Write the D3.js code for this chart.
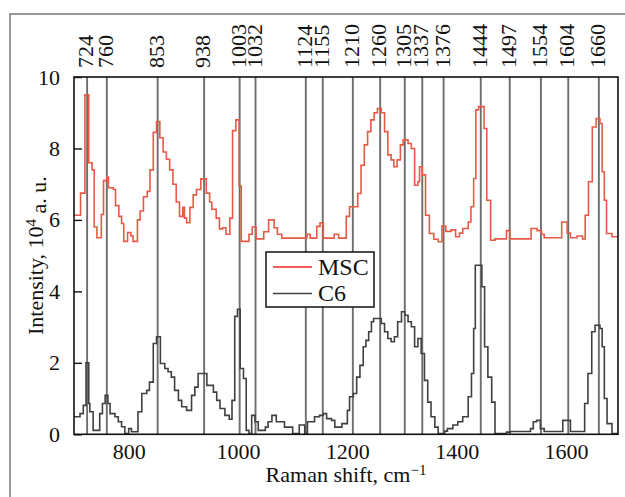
<html>
<head>
<style>
  body { margin: 0; background: white; }
  text { font-family: "Liberation Serif", "DejaVu Serif", serif; fill: #111; }
</style>
<script src="https://cdn.jsdelivr.net/npm/d3@7"></script>
</head>
<body>
<svg id="main"></svg>
<script>
// peak positions marked with vertical lines
const peaks = [724, 760, 853, 938, 1003, 1032, 1124, 1155, 1210, 1260, 1305, 1337, 1376, 1444, 1497, 1554, 1604, 1660]

// [Raman shift, intensity 10^4 a.u.], step-after
const msc = [
  [700, 6.13], [712, 6.75], [720, 9.5], [727, 7.6], [733, 7.4], [737, 5.8], [742, 5.5], [750, 6.15],
  [754, 7.1], [760, 7.2], [763, 6.9], [772, 6.85], [776, 6.4], [782, 6.1], [787, 5.9], [791, 5.4],
  [798, 5.65], [804, 5.55], [808, 5.4], [816, 6.0], [821, 6.25], [827, 6.65], [834, 6.8], [839, 7.4],
  [845, 8.45], [851, 8.75], [857, 8.3], [863, 7.9], [869, 7.7], [875, 7.4], [881, 7.0], [887, 6.5],
  [893, 6.1], [899, 6.35], [902, 6.05], [906, 5.92], [912, 6.35], [918, 6.7], [924, 6.85], [932, 7.15],
  [942, 6.75], [948, 6.5], [952, 6.3], [960, 6.05], [966, 5.75], [972, 5.78], [978, 5.6], [985, 6.05],
  [990, 8.5], [996, 8.8], [1002, 6.95], [1006, 5.4], [1020, 5.6], [1026, 5.8], [1033, 5.47], [1047, 5.67],
  [1056, 6.0], [1066, 5.78], [1072, 5.6], [1080, 5.49], [1126, 5.6], [1132, 5.49], [1144, 5.82], [1150, 5.92],
  [1156, 5.49], [1176, 5.6], [1184, 5.49], [1198, 6.1], [1204, 6.37], [1219, 6.74], [1225, 7.53], [1231, 8.1],
  [1237, 8.47], [1243, 8.8], [1249, 9.0], [1255, 9.12], [1262, 9.0], [1268, 8.47], [1274, 7.82], [1280, 7.68],
  [1285, 7.49], [1291, 7.68], [1297, 8.1], [1302, 8.24], [1311, 8.14], [1317, 8.0], [1323, 6.97], [1329, 7.07],
  [1332, 7.49], [1337, 7.26], [1343, 6.13], [1350, 5.62], [1358, 5.46], [1366, 5.39], [1373, 5.83], [1380, 5.68],
  [1390, 5.72], [1398, 5.53], [1405, 5.63], [1411, 5.76], [1421, 5.94], [1426, 6.37], [1431, 7.16], [1435, 9.08],
  [1440, 9.17], [1450, 8.56], [1455, 6.55], [1462, 5.43], [1470, 5.47], [1491, 5.7], [1497, 5.47], [1536, 5.76],
  [1547, 5.7], [1555, 5.6], [1560, 5.5], [1592, 5.94], [1602, 5.63], [1608, 5.5], [1620, 5.55], [1630, 5.47],
  [1635, 6.13], [1641, 7.07], [1648, 8.6], [1655, 8.84], [1662, 8.7], [1666, 7.35], [1670, 6.55], [1674, 5.62],
  [1684, 5.53], [1695, 5.53]
]

const c6 = [
  [700, 0.49], [711, 0.58], [717, 0.81], [722, 2.0], [727, 0.86], [729, 0.63], [735, 0.11], [747, 0.58],
  [752, 0.86], [757, 1.09], [762, 0.86], [766, 0.58], [775, 0.49], [781, 0.35], [787, 0.21], [793, 0.02],
  [800, 0.16], [805, 0.07], [817, 0.63], [824, 1.14], [833, 1.23], [838, 1.46], [845, 2.54], [851, 2.73],
  [858, 1.98], [866, 1.84], [872, 1.75], [878, 1.6], [884, 1.23], [891, 0.95], [897, 0.77], [906, 0.67],
  [915, 1.09], [921, 1.32], [927, 1.7], [943, 1.37], [955, 1.18], [961, 0.95], [967, 0.72], [976, 0.53],
  [984, 0.42], [989, 0.95], [994, 3.3], [999, 3.5], [1004, 1.84], [1010, 1.56], [1015, 0.11], [1020, 0.02],
  [1025, 0.53], [1031, 0.35], [1037, 0.11], [1050, 0.2], [1055, 0.35], [1062, 0.53], [1070, 0.35], [1085, 0.2],
  [1100, 0.02], [1112, 0.26], [1122, 0.02], [1127, 0.35], [1140, 0.49], [1149, 0.53], [1156, 0.58], [1162, 0.44],
  [1171, 0.39], [1177, 0.2], [1190, 0.3], [1200, 0.67], [1204, 1.05], [1211, 1.14], [1217, 1.6], [1223, 1.93],
  [1229, 2.45], [1234, 2.63], [1239, 2.87], [1244, 3.15], [1248, 3.24], [1262, 3.1], [1268, 2.87], [1274, 2.68],
  [1280, 2.59], [1286, 2.73], [1292, 3.15], [1299, 3.43], [1305, 3.33], [1311, 3.15], [1317, 3.01], [1323, 2.45],
  [1329, 2.68], [1335, 2.26], [1341, 1.51], [1347, 0.9], [1353, 0.49], [1360, 0.2], [1366, 0.02], [1378, 0.09],
  [1383, 0.16], [1393, 0.26], [1402, 0.35], [1411, 0.49], [1421, 1.05], [1427, 1.7], [1431, 2.96], [1434, 4.73],
  [1446, 4.13], [1451, 2.45], [1457, 1.6], [1464, 0.9], [1470, 0.02], [1491, 0.06], [1498, 0.08], [1535, 0.16],
  [1540, 0.35], [1546, 0.39], [1553, 0.16], [1560, 0.08], [1594, 0.39], [1608, 0.08], [1634, 0.86], [1640, 1.7],
  [1647, 2.87], [1653, 3.05], [1662, 2.96], [1666, 2.45], [1670, 1.0], [1675, 0.3], [1684, 0.02], [1695, 0.02]
]

const xTicks = [800, 1000, 1200, 1400, 1600]
const yTicks = [0, 2, 4, 6, 8, 10]

const width = 625, height = 497
const margin = {top: 77, right: 7, bottom: 63, left: 74}
const red = "#e65a45", dark = "#404040"

const svg = d3.select("#main").attr("width", width).attr("height", height)

// outer frame running off the picture
svg.append("rect").attr("x", 10).attr("y", 14).attr("width", 700).attr("height", 600)
  .attr("fill", "none").attr("stroke", "#777").attr("stroke-width", 1.5)

const x = d3.scaleLinear().domain([700, 1695]).range([margin.left, width - margin.right])
const y = d3.scaleLinear().domain([0, 10]).range([height - margin.bottom + 0.3, margin.top])

svg.append("clipPath").attr("id", "clip").append("rect")
  .attr("x", x(700)).attr("y", y(10)).attr("width", x(1695) - x(700)).attr("height", y(0) - y(10))

// peak lines
svg.append("g").selectAll("line").data(peaks).join("line")
  .attr("x1", d => x(d)).attr("x2", d => x(d))
  .attr("y1", y(10)).attr("y2", y(0))
  .attr("stroke", "#6e6e6e").attr("stroke-width", 1.9)

svg.append("g").attr("font-size", 22).selectAll("text").data(peaks).join("text")
  .attr("transform", d => `translate(${x(d) - 1.5},68) rotate(-90)`)
  .attr("dy", "0.35em")
  .text(d => d)

const line = d3.line().curve(d3.curveStepAfter).x(d => x(d[0])).y(d => y(d[1]))

const plot = svg.append("g").attr("clip-path", "url(#clip)")
plot.append("path").datum(msc).attr("d", line)
  .attr("fill", "none").attr("stroke", red).attr("stroke-width", 1.6)
plot.append("path").datum(c6).attr("d", line)
  .attr("fill", "none").attr("stroke", dark).attr("stroke-width", 1.6)

// frame of the plot
svg.append("rect").attr("x", x(700)).attr("y", y(10))
  .attr("width", x(1695) - x(700)).attr("height", y(0) - y(10))
  .attr("fill", "none").attr("stroke", "#111").attr("stroke-width", 1.6)

// y ticks point inward
const yAxis = svg.append("g").attr("transform", `translate(${x(700)},0)`)
  .call(d3.axisLeft(y).tickValues(yTicks).tickSize(-8).tickPadding(14).tickFormat(d3.format("d")))
yAxis.select(".domain").remove()
yAxis.selectAll("line").attr("stroke", "#111").attr("stroke-width", 1.4)
yAxis.selectAll("text").attr("font-size", 22).attr("font-family", null).attr("fill", "#111")

const xAxis = svg.append("g").attr("transform", `translate(0,${y(0)})`)
  .call(d3.axisBottom(x).tickValues(xTicks).tickSize(0).tickPadding(9).tickFormat(d3.format("d")))
xAxis.select(".domain").remove()
xAxis.selectAll("text").attr("font-size", 22).attr("font-family", null).attr("fill", "#111")

// axis titles
const xt = svg.append("text").attr("x", (x(700) + x(1695)) / 2).attr("y", 482)
  .attr("text-anchor", "middle").attr("font-size", 22)
xt.append("tspan").text("Raman shift, cm")
xt.append("tspan").attr("dy", "-0.45em").attr("font-size", 15).text("\u22121")

const yt = svg.append("text")
  .attr("transform", `translate(43,${(y(0) + y(10)) / 2}) rotate(-90)`)
  .attr("text-anchor", "middle").attr("font-size", 22)
yt.append("tspan").text("Intensity, 10")
yt.append("tspan").attr("dy", "-0.45em").attr("font-size", 15).text("4")
yt.append("tspan").attr("dy", "0.45em").text(" a. u.")

// legend
const legend = svg.append("g").attr("transform", "translate(266,252)")
legend.append("rect").attr("width", 108).attr("height", 55)
  .attr("fill", "white").attr("stroke", "#111").attr("stroke-width", 1.5)
const items = [["MSC", "#f02a1c"], ["C6", dark]]
items.forEach(([name, col], i) => {
  legend.append("line").attr("x1", 7).attr("x2", 46).attr("y1", 15 + i * 26.5).attr("y2", 15 + i * 26.5)
    .attr("stroke", col).attr("stroke-width", 1.6)
  legend.append("text").attr("x", 52).attr("y", 22.5 + i * 26).attr("font-size", 24).text(name)
})
</script>
</body>
</html>
